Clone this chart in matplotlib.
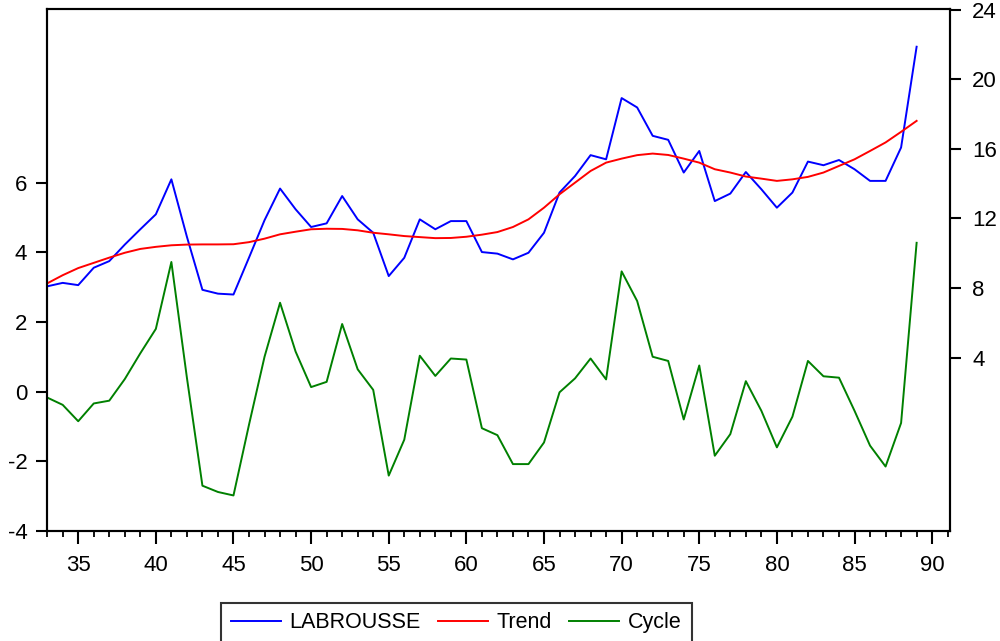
import numpy as np
import matplotlib.pyplot as plt
from matplotlib.ticker import MultipleLocator, FixedLocator

plt.rcParams['font.family'] = ['Liberation Sans', 'DejaVu Sans']
plt.rcParams['axes.unicode_minus'] = False

# HP filter output, 1833-1889 (two-digit years on the axis)
years = np.arange(33, 90)

labrousse = [8.10, 8.30, 8.17, 9.17, 9.55, 10.50, 11.38, 12.24, 14.25, 10.95,
             7.90, 7.68, 7.63, 9.75, 11.90, 13.72, 12.53, 11.51, 11.72, 13.29,
             11.95, 11.18, 8.69, 9.74, 11.95, 11.38, 11.85, 11.85, 10.07, 9.98,
             9.65, 10.03, 11.18, 13.49, 14.44, 15.64, 15.40, 18.92, 18.38, 16.75,
             16.52, 14.64, 15.88, 13.00, 13.43, 14.67, 13.68, 12.62, 13.49, 15.27,
             15.06, 15.36, 14.83, 14.16, 14.16, 16.08, 21.87]

trend = [8.27, 8.74, 9.15, 9.45, 9.75, 10.03, 10.25, 10.37, 10.46, 10.50,
         10.51, 10.51, 10.52, 10.64, 10.84, 11.09, 11.24, 11.38, 11.41, 11.40,
         11.32, 11.18, 11.09, 10.99, 10.93, 10.87, 10.88, 10.95, 11.07, 11.22,
         11.51, 11.95, 12.62, 13.39, 14.06, 14.73, 15.21, 15.44, 15.64, 15.73,
         15.65, 15.44, 15.21, 14.83, 14.64, 14.41, 14.29, 14.16, 14.25, 14.39,
         14.64, 15.02, 15.40, 15.88, 16.37, 16.98, 17.61]

cycle = [-0.17, -0.38, -0.85, -0.34, -0.26, 0.36, 1.10, 1.80, 3.72, 0.40,
         -2.70, -2.88, -2.98, -0.95, 1.00, 2.55, 1.15, 0.13, 0.28, 1.94,
         0.64, 0.05, -2.41, -1.38, 1.03, 0.45, 0.95, 0.92, -1.05, -1.25,
         -2.08, -2.08, -1.46, -0.02, 0.38, 0.95, 0.35, 3.45, 2.60, 1.00,
         0.88, -0.80, 0.75, -1.84, -1.22, 0.30, -0.55, -1.60, -0.72, 0.88,
         0.44, 0.40, -0.55, -1.55, -2.15, -0.90, 4.27]

fig = plt.figure(figsize=(10, 6.41), dpi=100)
ax = fig.add_axes([0.0467, 0.1716, 0.9033, 0.8144])
ax2 = ax.twinx()

lw = 1.4
l3, = ax.plot(years, cycle, color='#008000', lw=lw, label='Cycle')
l1, = ax2.plot(years, labrousse, color='#0000ff', lw=lw, label='LABROUSSE')
l2, = ax2.plot(years, trend, color='#ff0000', lw=lw, label='Trend')

ax.set_xlim(32.97, 91.15)
ax.set_ylim(-4, 10.98)
ax2.set_ylim(-5.96, 24.04)

ax.xaxis.set_major_locator(MultipleLocator(5))
ax.xaxis.set_minor_locator(MultipleLocator(1))
ax.yaxis.set_major_locator(FixedLocator([-4, -2, 0, 2, 4, 6]))
ax2.yaxis.set_major_locator(FixedLocator([4, 8, 12, 16, 20, 24]))

for a in (ax, ax2):
    for s in a.spines.values():
        s.set_linewidth(1.5)
        s.set_color('black')

ax.tick_params(axis='x', which='major', direction='out', length=9, width=1.5,
               labelsize=16, pad=8)
ax.tick_params(axis='x', which='minor', direction='out', length=4, width=1.3)
ax.tick_params(axis='y', direction='out', length=8, width=1.5, labelsize=16, pad=6)
ax2.tick_params(axis='y', direction='out', length=8, width=1.5, labelsize=16, pad=8)

leg = fig.legend([l1, l2, l3], ['LABROUSSE', 'Trend', 'Cycle'],
                 loc='upper left', bbox_to_anchor=(0.221, 0.0597),
                 bbox_transform=fig.transFigure, ncol=3, fontsize=15.5,
                 frameon=True, fancybox=False, shadow=False,
                 handlelength=2.33, handletextpad=0.4, columnspacing=0.8,
                 borderpad=0.45, borderaxespad=0)
leg.get_frame().set_edgecolor('black')
leg.get_frame().set_linewidth(1.5)

fig.savefig('out.png', dpi=100)
